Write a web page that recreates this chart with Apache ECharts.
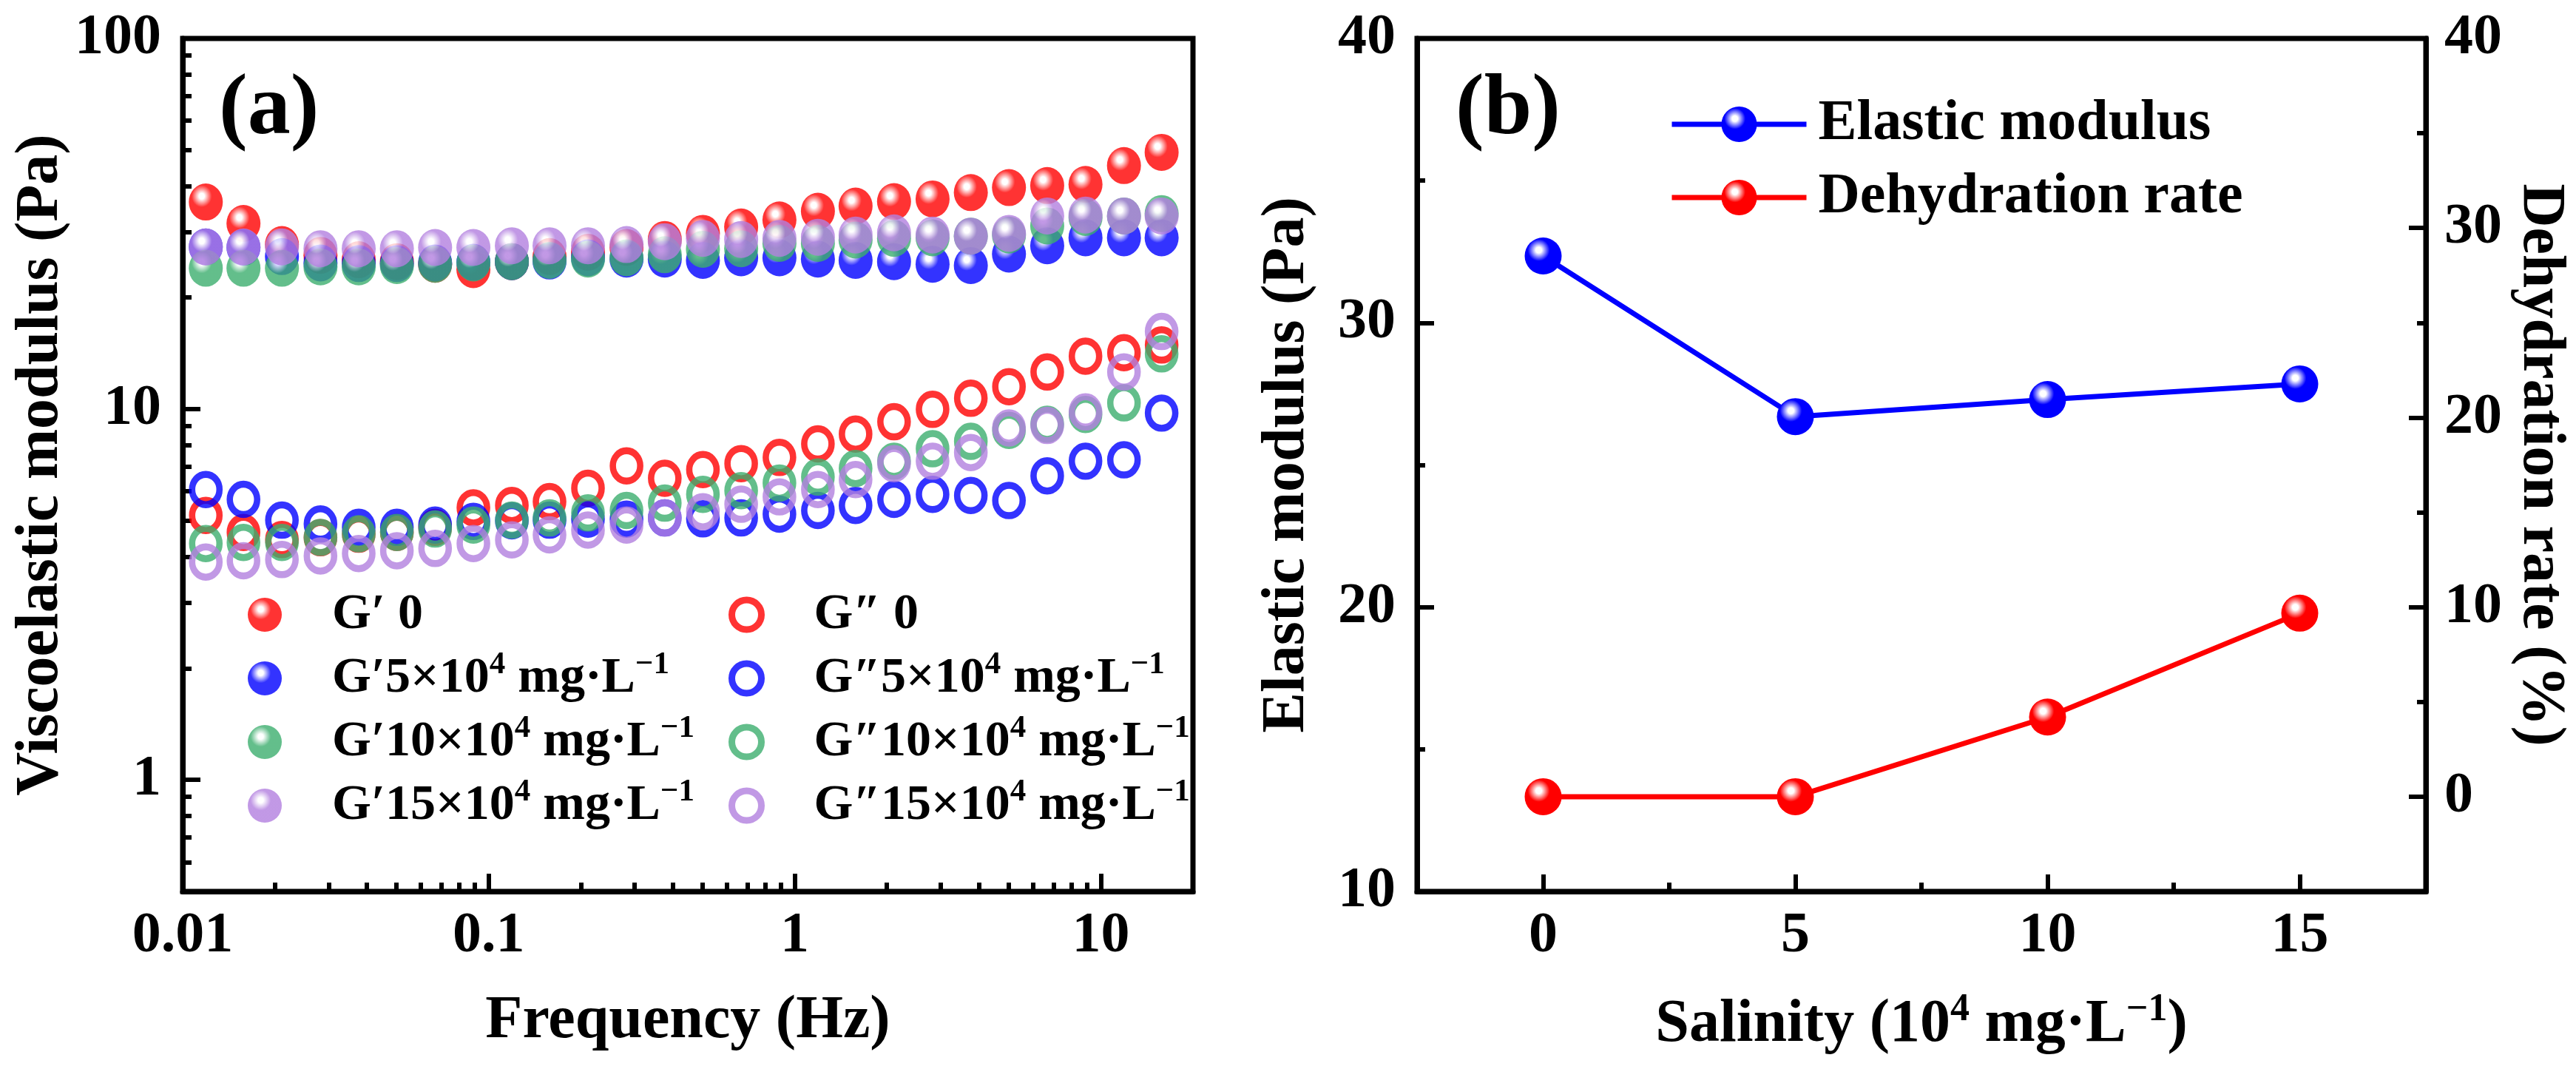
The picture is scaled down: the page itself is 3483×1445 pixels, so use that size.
<!DOCTYPE html>
<html>
<head>
<meta charset="utf-8">
<title>Viscoelastic modulus / salinity</title>
<script src="https://cdn.jsdelivr.net/npm/echarts@6/dist/echarts.min.js"></script>
<style>
html, body { margin: 0; padding: 0; background: #fff; }
#main { width: 3483px; height: 1445px; }
</style>
</head>
<body>
<div id="main"></div>
<script>
// frequency sweep points (Hz)
const freq = [0.0119, 0.0158, 0.0211, 0.0282, 0.0376, 0.0501, 0.0668, 0.0891, 0.119, 0.158,
  0.211, 0.282, 0.376, 0.501, 0.668, 0.891, 1.19, 1.58, 2.11, 2.82, 3.76, 5.01, 6.68, 8.91, 11.9, 15.8];
// storage modulus G' (Pa)
const gp0 = [36.2, 31.7, 27.8, 26.0, 25.3, 25.0, 24.6, 23.8, 25.0, 25.8, 26.5, 27.3, 28.7,
  29.8, 31.0, 32.4, 34.2, 35.3, 36.3, 36.9, 38.4, 39.6, 40.1, 40.4, 45.4, 49.3];
const gp5 = [27.4, 27.3, 25.8, 24.8, 24.7, 24.7, 24.8, 24.9, 25.0, 25.1, 25.6, 25.4, 25.4,
  25.2, 25.6, 25.6, 25.4, 25.2, 25.0, 24.6, 24.4, 26.2, 27.6, 29.0, 29.0, 29.0];
const gp10 = [24.0, 24.0, 24.0, 24.2, 24.2, 24.4, 24.6, 24.8, 25.0, 25.2, 25.4, 25.6, 26.1,
  27.0, 27.1, 28.0, 28.0, 28.6, 28.9, 29.0, 29.3, 29.5, 31.2, 32.9, 33.2, 33.7];
const gp15 = [27.4, 27.4, 27.4, 27.1, 27.1, 27.1, 27.3, 27.3, 27.6, 27.6, 27.6, 27.8, 28.3,
  28.9, 28.7, 28.9, 29.1, 29.5, 29.9, 29.5, 29.3, 29.8, 33.2, 33.4, 33.2, 33.2];
// loss modulus G'' (Pa)
const gpp0 = [5.17, 4.65, 4.45, 4.5, 4.6, 4.65, 4.8, 5.42, 5.50, 5.63, 6.12, 7.03, 6.51,
  6.87, 7.13, 7.41, 8.06, 8.57, 9.25, 9.99, 10.7, 11.5, 12.6, 13.9, 14.2, 14.9];
const gpp5 = [6.07, 5.71, 5.02, 4.90, 4.80, 4.80, 4.87, 4.98, 5.0, 5.02, 5.05, 5.05, 5.09,
  5.06, 5.09, 5.21, 5.33, 5.50, 5.71, 5.89, 5.85, 5.67, 6.61, 7.24, 7.30, 9.76];
const gpp10 = [4.34, 4.37, 4.37, 4.51, 4.61, 4.65, 4.75, 4.87, 5.02, 5.09, 5.25, 5.33, 5.58,
  5.89, 6.03, 6.32, 6.56, 6.92, 7.24, 7.82, 8.19, 8.77, 9.11, 9.68, 10.4, 14.1];
const gpp15 = [3.87, 3.90, 3.93, 4.02, 4.08, 4.15, 4.21, 4.34, 4.44, 4.58, 4.72, 4.87, 5.09,
  5.29, 5.54, 5.80, 6.07, 6.46, 7.13, 7.24, 7.64, 8.90, 9.04, 9.83, 12.6, 16.2];

// panel (b)
const salinity = [0, 5, 10, 15];
const elastic = [32.35, 26.7, 27.3, 27.85];
const dehydration = [0, 0, 4.2, 9.68];

// tick values
const freqTicks = [0.01, 0.1, 1, 10];
const freqMinor = [0.02, 0.03, 0.04, 0.05, 0.06, 0.07, 0.08, 0.09,
  0.2, 0.3, 0.4, 0.5, 0.6, 0.7, 0.8, 0.9, 2, 3, 4, 5, 6, 7, 8, 9];
const modTicks = [1, 10, 100];
const modMinor = [0.6, 0.7, 0.8, 0.9, 2, 3, 4, 5, 6, 7, 8, 9, 20, 30, 40, 50, 60, 70, 80, 90];
const salTicks = [0, 5, 10, 15];
const salMinor = [2.5, 7.5, 12.5];
const rateLabels = [0, 10, 20, 30, 40];
const rateTicks = [0, 10, 20, 30];
const rateMinor = [5, 15, 25, 35];

const solidNames = ['G′ 0', 'G′5×10⁴ mg·L⁻¹', 'G′10×10⁴ mg·L⁻¹', 'G′15×10⁴ mg·L⁻¹'];
const hollowNames = ['G″ 0', 'G″5×10⁴ mg·L⁻¹', 'G″10×10⁴ mg·L⁻¹', 'G″15×10⁴ mg·L⁻¹'];
const colors = ['#ff0000', '#0000ff', '#3cae6e', '#b27fdf'];

const serif = "'Liberation Serif', 'Times New Roman', serif";
const black = '#000';

// shiny ball look of the Origin markers
function ball(c) {
  return {
    type: 'radial', x: 0.38, y: 0.34, r: 0.66,
    colorStops: [
      { offset: 0, color: '#ffffff' },
      { offset: 0.12, color: '#ffffff' },
      { offset: 0.45, color: c },
      { offset: 1, color: c }
    ]
  };
}

function solid(name, vals, c) {
  return {
    type: 'scatter', name: name, xAxisIndex: 0, yAxisIndex: 0,
    symbol: 'circle', symbolSize: [46, 50],
    itemStyle: { color: ball(c) },
    data: freq.map((f, i) => [f, vals[i]])
  };
}

function hollow(name, vals, c) {
  return {
    type: 'scatter', name: name, xAxisIndex: 0, yAxisIndex: 0,
    symbol: 'circle', symbolSize: [37, 41],
    itemStyle: { color: 'rgba(255,255,255,0)', borderColor: c, borderWidth: 9 },
    data: freq.map((f, i) => [f, vals[i]])
  };
}

// superscripts in legend text
function legendText(name) {
  let m = name.match(/^(.*)×10⁴ mg·L⁻¹$/);
  if (m) {
    return '{m|' + m[1] + '×10}{s|4}{m| mg·L}{s|−1}';
  }
  return '{m|' + name + '}';
}
const legendRich = {
  m: { fontFamily: serif, fontWeight: 'bold', fontSize: 68, lineHeight: 80, color: black },
  s: { fontFamily: serif, fontWeight: 'bold', fontSize: 43, lineHeight: 44, verticalAlign: 'top', color: black }
};

const labelFont = { fontFamily: serif, fontWeight: 'bold', fontSize: 78, color: black };
const nameFont = { fontFamily: serif, fontWeight: 'bold', fontSize: 82, color: black };
const axLine = { show: true, onZero: false, lineStyle: { color: black, width: 7 } };
const tickStyle = { color: black, width: 6 };

function minorAxis(grid, type, min, max, pos, vals) {
  return {
    gridIndex: grid, type: type, min: min, max: max, position: pos,
    axisLine: { show: false, onZero: false },
    axisTick: { show: true, inside: true, length: 12, lineStyle: tickStyle, customValues: vals },
    axisLabel: { show: false },
    splitLine: { show: false }
  };
}

let chart = echarts.init(document.getElementById('main'));
let option = {
  animation: false,
  backgroundColor: '#fff',
  title: [
    { text: '(a)', left: 296, top: 92, padding: 0,
      textStyle: { fontFamily: serif, fontWeight: 'bold', fontSize: 116, color: black } },
    { text: '(b)', left: 1968, top: 92, padding: 0,
      textStyle: { fontFamily: serif, fontWeight: 'bold', fontSize: 116, color: black } }
  ],
  legend: [
    {
      orient: 'vertical', left: 335, top: 797, padding: 0,
      itemWidth: 46, itemHeight: 48, itemGap: 12, icon: 'circle',
      data: solidNames, formatter: legendText,
      textStyle: { padding: [0, 0, 0, 63], rich: legendRich }
    },
    {
      orient: 'vertical', left: 985, top: 797, padding: 0,
      itemWidth: 40, itemHeight: 42, itemGap: 12, icon: 'circle',
      data: hollowNames.map((n, i) => ({
        name: n,
        itemStyle: { color: 'rgba(255,255,255,0)', borderColor: colors[i], borderWidth: 9 }
      })),
      formatter: legendText,
      textStyle: { padding: [0, 0, 0, 66], rich: legendRich }
    },
    {
      orient: 'vertical', left: 2257, top: 128, padding: 0,
      itemWidth: 182, itemHeight: 60, itemGap: 19,
      data: ['Elastic modulus', 'Dehydration rate'],
      lineStyle: { width: 7 },
      textStyle: { fontFamily: serif, fontWeight: 'bold', fontSize: 78, lineHeight: 80,
        color: black, padding: [0, 0, 0, 11] }
    }
  ],
  grid: [
    { left: 247, top: 52, width: 1366, height: 1153, show: true, borderColor: black,
      borderWidth: 7, containLabel: false, outerBoundsMode: 'none' },
    { left: 1916, top: 52, width: 1364, height: 1153, show: true, borderColor: black,
      borderWidth: 7, containLabel: false, outerBoundsMode: 'none' }
  ],
  xAxis: [
    {
      gridIndex: 0, type: 'log', min: 0.01, max: 20, position: 'bottom',
      axisLine: axLine,
      axisTick: { inside: true, length: 24, lineStyle: tickStyle, customValues: freqTicks },
      axisLabel: Object.assign({ margin: 22, customValues: freqTicks }, labelFont),
      splitLine: { show: false },
      name: 'Frequency (Hz)', nameLocation: 'middle', nameGap: 135, nameTextStyle: nameFont
    },
    minorAxis(0, 'log', 0.01, 20, 'bottom', freqMinor),
    {
      gridIndex: 1, type: 'value', min: -2.5, max: 17.5, position: 'bottom',
      axisLine: axLine,
      axisTick: { inside: true, length: 23, lineStyle: tickStyle, customValues: salTicks },
      axisLabel: Object.assign({ margin: 22, customValues: salTicks }, labelFont),
      splitLine: { show: false },
      name: '{n|Salinity (10}{s|4}{n| mg·L}{s|−1}{n|)}',
      nameLocation: 'middle', nameGap: 135,
      nameTextStyle: {
        rich: {
          n: { fontFamily: serif, fontWeight: 'bold', fontSize: 82, lineHeight: 92, color: black },
          s: { fontFamily: serif, fontWeight: 'bold', fontSize: 52, lineHeight: 52, verticalAlign: 'top', color: black }
        }
      }
    },
    minorAxis(1, 'value', -2.5, 17.5, 'bottom', salMinor)
  ],
  yAxis: [
    {
      gridIndex: 0, type: 'log', min: 0.5, max: 100, position: 'left',
      axisLine: axLine,
      axisTick: { inside: true, length: 24, lineStyle: tickStyle, customValues: modTicks },
      axisLabel: Object.assign({ margin: 29, customValues: modTicks }, labelFont),
      splitLine: { show: false },
      name: 'Viscoelastic modulus (Pa)', nameLocation: 'middle', nameGap: 145, nameTextStyle: nameFont
    },
    minorAxis(0, 'log', 0.5, 100, 'left', modMinor),
    {
      gridIndex: 1, type: 'value', min: 10, max: 40, interval: 10, position: 'left',
      axisLine: axLine,
      axisTick: { inside: true, length: 23, lineStyle: tickStyle },
      minorTick: { show: true, splitNumber: 2, length: 11, lineStyle: tickStyle },
      axisLabel: Object.assign({ margin: 29 }, labelFont),
      splitLine: { show: false },
      name: 'Elastic modulus (Pa)', nameLocation: 'middle', nameGap: 134, nameTextStyle: nameFont
    },
    {
      gridIndex: 1, type: 'value', min: -5, max: 40, position: 'right',
      axisLine: axLine,
      axisTick: { inside: true, length: 23, lineStyle: tickStyle, customValues: rateTicks },
      axisLabel: Object.assign({ margin: 25, customValues: rateLabels }, labelFont),
      splitLine: { show: false },
      name: 'Dehydration rate (%)', nameLocation: 'middle', nameRotate: -90, nameGap: 113,
      nameTextStyle: nameFont
    },
    minorAxis(1, 'value', -5, 40, 'right', rateMinor)
  ],
  series: [
    solid(solidNames[0], gp0, colors[0]),
    solid(solidNames[1], gp5, colors[1]),
    solid(solidNames[2], gp10, colors[2]),
    solid(solidNames[3], gp15, colors[3]),
    hollow(hollowNames[0], gpp0, colors[0]),
    hollow(hollowNames[1], gpp5, colors[1]),
    hollow(hollowNames[2], gpp10, colors[2]),
    hollow(hollowNames[3], gpp15, colors[3]),
    {
      type: 'line', name: 'Elastic modulus', xAxisIndex: 2, yAxisIndex: 2,
      symbol: 'circle', symbolSize: 50, showAllSymbol: true,
      lineStyle: { color: colors[1], width: 7 },
      itemStyle: { color: ball(colors[1]) },
      data: salinity.map((s, i) => [s, elastic[i]])
    },
    {
      type: 'line', name: 'Dehydration rate', xAxisIndex: 2, yAxisIndex: 3,
      symbol: 'circle', symbolSize: 50, showAllSymbol: true,
      lineStyle: { color: colors[0], width: 7 },
      itemStyle: { color: ball(colors[0]) },
      data: salinity.map((s, i) => [s, dehydration[i]])
    }
  ]
};
chart.setOption(option);
</script>
</body>
</html>
